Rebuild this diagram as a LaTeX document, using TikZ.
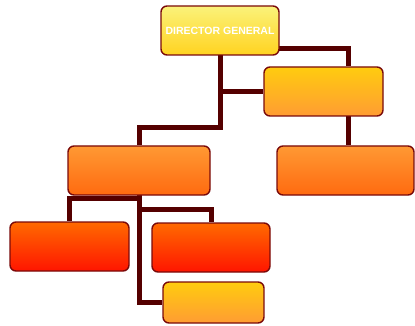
\documentclass[tikz,border=0pt]{standalone}
\usepackage{fontspec}
\newfontfamily\labelfont{Liberation Sans}
\usetikzlibrary{backgrounds}
\definecolor{edgeC}{HTML}{7A0A0A}
\definecolor{connC}{HTML}{550000}
\definecolor{dgTop}{HTML}{FBF27A}
\definecolor{dgBot}{HTML}{FFD320}
\definecolor{yTop}{HTML}{FFCC0F}
\definecolor{yBot}{HTML}{FF9C33}
\definecolor{oTop}{HTML}{FF9933}
\definecolor{oBot}{HTML}{FF6A10}
\definecolor{rTop}{HTML}{FF6A00}
\definecolor{rBot}{HTML}{FF1500}
\tikzset{
  box/.style={draw=edgeC, line width=1.4pt, rounded corners=6pt, inner sep=0pt, minimum height=49pt},
  dgbox/.style={box, top color=dgTop, bottom color=dgBot},
  ybox/.style={box, top color=yTop, bottom color=yBot},
  obox/.style={box, top color=oTop, bottom color=oBot},
  rbox/.style={box, top color=rTop, bottom color=rBot},
  conn/.style={draw=connC, line width=5pt}
}
\begin{document}
\begin{tikzpicture}[x=1pt,y=-1pt]
\useasboundingbox (0,0) rectangle (415,326);
\node[dgbox, minimum width=118pt, text=white, font=\labelfont\bfseries\fontsize{10.5}{12}\selectfont] (DG) at (220,30.5) {DIRECTOR GENERAL};
\node[ybox, minimum width=119pt] (B) at (323.5,91.5) {};
\node[obox, minimum width=137pt] (C) at (345.5,170.5) {};
\node[obox, minimum width=142pt] (D) at (139,170.5) {};
\node[rbox, minimum width=119pt] (E) at (69.5,246.5) {};
\node[rbox, minimum width=118pt] (F) at (211,247.5) {};
\node[ybox, minimum width=101pt, minimum height=41pt] (G) at (213.5,302.5) {};
\begin{scope}[on background layer]
\draw[conn] (DG.center |- 0,49) -| ([xshift=24.5pt]B.north);
\draw[conn] ([xshift=24.5pt]B.center) -- ([xshift=24.5pt]B.center |- C.north);
\draw[conn] (DG.center) -- (DG.center |- 0,128) -| (D.north);
\draw[conn] (DG.center |- B.west) -- (B.west);
\draw[conn] (D.center) -- (D.center |- G.west) -- (G.west);
\draw[conn] (D.center |- 0,198) -| (E.north);
\draw[conn] (D.center |- 0,209) -| (F.north);
\end{scope}
\end{tikzpicture}
\end{document}
